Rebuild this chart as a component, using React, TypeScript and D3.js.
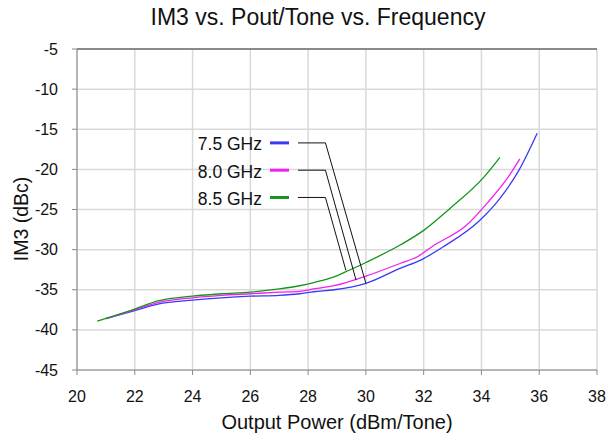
import React from "react";
import * as d3 from "d3";

const xTicks = [20, 22, 24, 26, 28, 30, 32, 34, 36, 38];
const yTicks = [-5, -10, -15, -20, -25, -30, -35, -40, -45];

const seriesNames = ["7.5 GHz", "8.0 GHz", "8.5 GHz"];
const seriesColors = ["#3a3af5", "#f51ff0", "#14951a"];

const pout75 = [21.0, 22.0, 22.8, 24.0, 25.0, 26.0, 27.0, 27.7, 28.2, 28.9, 30.0, 31.2, 31.9, 32.7, 33.9, 34.6, 35.3, 35.93];
const im375 = [-38.6, -37.6, -36.8, -36.3, -36.0, -35.8, -35.7, -35.5, -35.25, -35.0, -34.2, -32.3, -31.3, -29.6, -26.5, -23.8, -20.1, -15.5];

const pout80 = [21.0, 22.0, 22.8, 24.0, 25.0, 26.0, 27.0, 27.7, 28.2, 28.9, 30.0, 31.2, 31.8, 32.3, 33.5, 34.2, 34.9, 35.33];
const im380 = [-38.6, -37.5, -36.6, -36.0, -35.7, -35.5, -35.3, -35.2, -34.9, -34.5, -33.3, -31.7, -30.85, -29.6, -26.9, -24.2, -21.1, -18.7];

const pout85 = [20.7, 22.0, 22.8, 24.0, 25.0, 26.0, 27.0, 27.7, 28.2, 28.9, 29.4, 30.0, 31.2, 32.0, 32.9, 34.1, 34.64];
const im385 = [-38.9, -37.4, -36.4, -35.8, -35.5, -35.3, -34.9, -34.5, -34.1, -33.4, -32.6, -31.6, -29.4, -27.6, -24.9, -20.9, -18.5];

// callout anchors: label y value, elbow x, target point
const calloutLabelY = [-16.7, -20.1, -23.5];
const calloutElbowX = [28.6, 28.6, 28.6];
const calloutTargetX = [30.0, 29.66, 29.31];
const calloutTargetY = [-34.2, -33.8, -32.6];

export default function App() {
  const W = 607, H = 438;
  const left = 77, right = 597, top = 49, bottom = 370;
  const x = d3.scaleLinear().domain([20, 38]).range([left, right]);
  const y = d3.scaleLinear().domain([-45, -5]).range([bottom, top]);
  const line = d3.line<[number, number]>().x(d => x(d[0])).y(d => y(d[1])).curve(d3.curveMonotoneX);
  const series = [
    pout75.map((p, i) => [p, im375[i]] as [number, number]),
    pout80.map((p, i) => [p, im380[i]] as [number, number]),
    pout85.map((p, i) => [p, im385[i]] as [number, number]),
  ];
  const font = "'Liberation Sans', Arial, sans-serif";
  return (
    <svg width={W} height={H} style={{ display: "block", position: "absolute", left: 0, top: 0, background: "#fff" }}>
      <text x={318} y={25} textAnchor="middle" fontFamily={font} fontSize={23} fill="#111">IM3 vs. Pout/Tone vs. Frequency</text>
      {xTicks.map(t => (
        <line key={"gx" + t} x1={x(t)} x2={x(t)} y1={top} y2={bottom} stroke="#d9d9d9" strokeWidth={1.5} />
      ))}
      {yTicks.map(t => (
        <line key={"gy" + t} x1={left} x2={right} y1={y(t)} y2={y(t)} stroke="#d9d9d9" strokeWidth={1.5} />
      ))}
      <line x1={left} x2={right} y1={y(-5)} y2={y(-5)} stroke="#333" strokeWidth={1} />
      <line x1={left} x2={left} y1={top} y2={bottom} stroke="#888" strokeWidth={1} />
      <line x1={left} x2={right} y1={bottom} y2={bottom} stroke="#888" strokeWidth={1} />
      {xTicks.map(t => (
        <g key={"tx" + t}>
          <line x1={x(t)} x2={x(t)} y1={bottom} y2={bottom + 5} stroke="#888" />
          <text x={x(t)} y={402} textAnchor="middle" fontFamily={font} fontSize={16} fill="#111">{t}</text>
        </g>
      ))}
      {yTicks.map(t => (
        <g key={"ty" + t}>
          <line x1={left - 5} x2={left} y1={y(t)} y2={y(t)} stroke="#888" />
          <text x={58} y={y(t) + 5.5} textAnchor="end" fontFamily={font} fontSize={16} fill="#111">{t}</text>
        </g>
      ))}
      <text x={337} y={429} textAnchor="middle" fontFamily={font} fontSize={20} fill="#111">Output Power (dBm/Tone)</text>
      <text transform={`translate(28,219) rotate(-90)`} textAnchor="middle" fontFamily={font} fontSize={19.5} fill="#111">IM3 (dBc)</text>
      {series.map((s, i) => (
        <path key={"s" + i} d={line(s) || ""} fill="none" stroke={seriesColors[i]} strokeWidth={1.3} />
      ))}
      {seriesNames.map((n, i) => {
        const ly = y(calloutLabelY[i]);
        return (
          <g key={"c" + i}>
            <text x={262} y={ly + 7.5} textAnchor="end" fontFamily={font} fontSize={17.5} fill="#111">{n}</text>
            <line x1={270} x2={289} y1={ly} y2={ly} stroke={seriesColors[i]} strokeWidth={3} />
            <polyline points={`298,${ly} ${x(calloutElbowX[i])},${ly} ${x(calloutTargetX[i])},${y(calloutTargetY[i])}`} fill="none" stroke="#111" strokeWidth={1} />
          </g>
        );
      })}
    </svg>
  );
}
